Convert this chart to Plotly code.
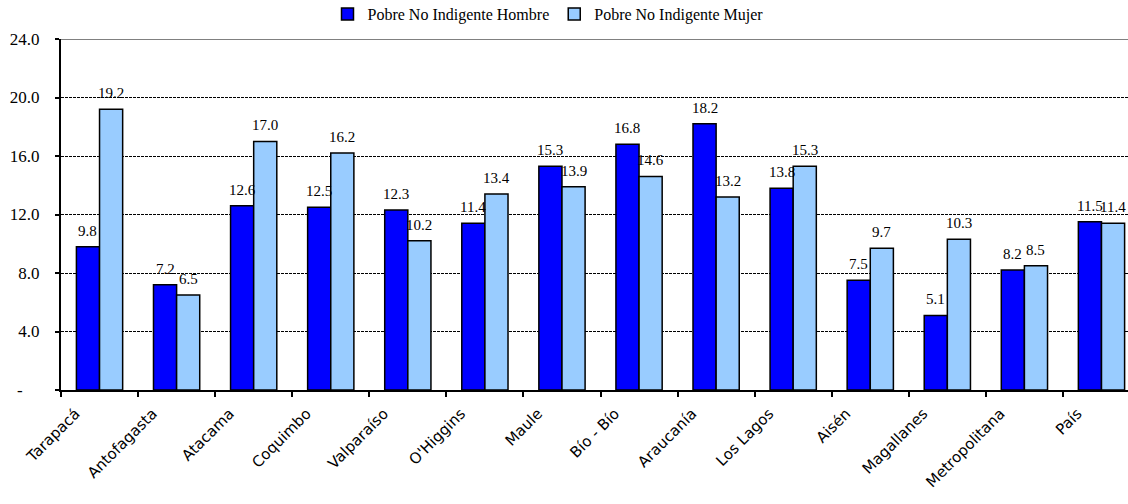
import plotly.graph_objects as go

regiones = ["Tarapacá", "Antofagasta", "Atacama", "Coquimbo", "Valparaíso", "O'Higgins",
            "Maule", "Bío - Bío", "Araucanía", "Los Lagos", "Aisén", "Magallanes",
            "Metropolitana", "País"]
hombre = [9.8, 7.2, 12.6, 12.5, 12.3, 11.4, 15.3, 16.8, 18.2, 13.8, 7.5, 5.1, 8.2, 11.5]
mujer = [19.2, 6.5, 17.0, 16.2, 10.2, 13.4, 13.9, 14.6, 13.2, 15.3, 9.7, 10.3, 8.5, 11.4]
y_ticks = [0, 4, 8, 12, 16, 20, 24]
y_ticktext = ["-\u00a0\u00a0\u00a0\u00a0", "4.0", "8.0", "12.0", "16.0", "20.0", "24.0"]

serif = "Liberation Serif"
W, H = 1128, 504
ML, MR, MT, MB = 61, 0, 39, 114
BARGAP = 0.4
X_RANGE = [-0.5, 13.344]

fig = go.Figure()
fig.add_trace(go.Bar(
    x=regiones, y=hombre, name="Pobre No Indigente Hombre",
    marker=dict(color="#0000FF", line=dict(color="black", width=1.5)),
))
fig.add_trace(go.Bar(
    x=regiones, y=mujer, name="Pobre No Indigente Mujer",
    marker=dict(color="#99CCFF", line=dict(color="black", width=1.5)),
))

# data labels as annotations, shifted horizontally onto each bar of the pair
cat_px = (W - ML - MR) / (X_RANGE[1] - X_RANGE[0])
off = cat_px * (1 - BARGAP) / 4
for series, sgn in ((hombre, -1), (mujer, 1)):
    for cat, v in zip(regiones, series):
        fig.add_annotation(x=cat, y=v, text=f"{v:.1f}", showarrow=False,
                           xshift=sgn * off, yshift=16, yanchor="middle",
                           font=dict(family=serif, size=15, color="black"))

fig.add_shape(type="line", xref="paper", yref="y", x0=0, x1=1, y0=24, y1=24,
              line=dict(color="#808080", width=2))
fig.update_layout(
    width=W, height=H,
    margin=dict(l=ML, r=MR, t=MT, b=MB, autoexpand=False),
    plot_bgcolor="white", paper_bgcolor="white",
    barmode="group", bargap=BARGAP, bargroupgap=0,
    showlegend=True,
    legend=dict(orientation="h", xref="container", yref="container",
                x=548 / W, xanchor="center", y=1 - 14 / H, yanchor="middle",
                bgcolor="rgba(0,0,0,0)",
                font=dict(family=serif, size=16, color="black"),
                itemwidth=30, tracegroupgap=0),
    xaxis=dict(
        type="category", range=X_RANGE, automargin=False,
        tickangle=-45, tickfont=dict(family="DejaVu Sans", size=15, color="black"),
        ticklabelshift=-24, ticklabelstandoff=7,
        ticks="outside", tickson="boundaries", ticklen=5, tickwidth=2, tickcolor="black",
        showline=True, linecolor="black", linewidth=2, showgrid=False,
    ),
    yaxis=dict(
        range=[0, 24], tickvals=y_ticks, ticktext=y_ticktext, automargin=False,
        tickfont=dict(family=serif, size=17, color="black"), ticklabelstandoff=12,
        ticks="outside", ticklen=4, tickwidth=2, tickcolor="black",
        showline=True, linecolor="black", linewidth=2,
        showgrid=True, gridcolor="black", gridwidth=1, griddash="3px,1px",
        zeroline=False,
    ),
)
fig.write_html("out.html", config={"displayModeBar": False},
               post_script="document.body.style.margin='0';")
